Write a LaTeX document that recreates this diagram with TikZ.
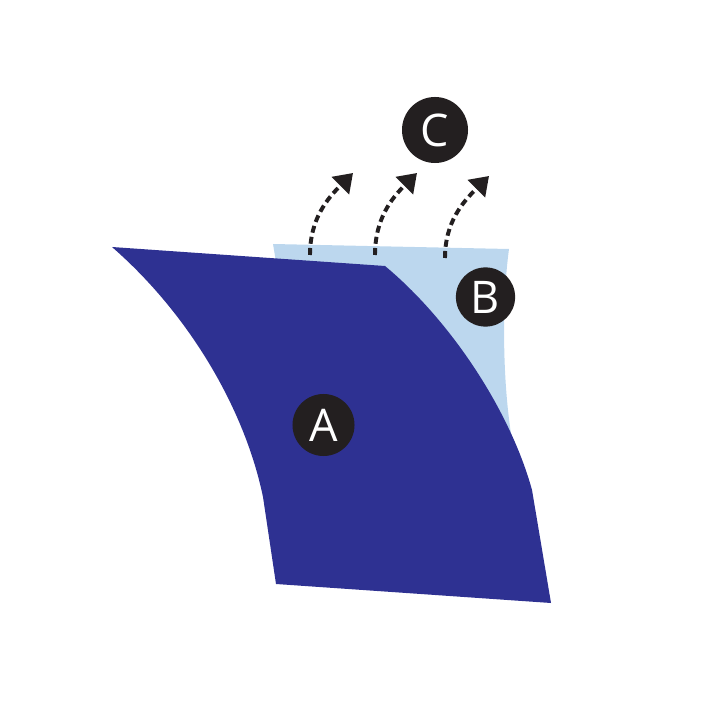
\documentclass[tikz,border=0pt]{standalone}
\usepackage{fontspec}
\setsansfont{Open Sans}
\usetikzlibrary{arrows.meta}
\definecolor{darkblue}{HTML}{2E3192}
\definecolor{lightblue}{HTML}{BCD7EE}
\definecolor{badge}{HTML}{231F20}
\tikzset{
  badgenode/.style={circle, fill=badge, text=white, inner sep=0pt, minimum size=1.55cm,
    font=\sffamily\fontsize{32}{32}\selectfont},
  escarrow/.style={line width=2.8pt, dash pattern=on 5pt off 3pt, color=badge,
    -{Triangle[length=0.45cm,width=0.6cm]}}
}
\begin{document}
\begin{tikzpicture}[x=0.025cm,y=-0.025cm]
\useasboundingbox (0,0) rectangle (720,720);
% layer B (light blue)
\fill[lightblue] (273,244) -- (509,249) .. controls (502,300) and (502,380) .. (512,440)
  -- (420,440) -- (276,262) -- cycle;
% layer A (dark blue)
\fill[darkblue] (112,247) -- (385,266) .. controls (450,320) and (510,410) .. (532,490)
  -- (551,603) -- (276,584) -- (263,497) .. controls (245,410) and (190,315) .. (112,247) -- cycle;
% badges
\node[badgenode] (A) at (323.5,425) {A};
\node[badgenode, minimum size=1.48cm] (B) at (485.5,297) {B};
\node[badgenode, minimum size=1.65cm] (C) at (435,130) {C};
% arrows
\coordinate (s1) at (310,255); \coordinate (t1) at (353,173);
\coordinate (s2) at (375,255); \coordinate (t2) at (417,173);
\coordinate (s3) at (445,258); \coordinate (t3) at (489,176);
\draw[escarrow] (s1) to[out=90,in=225] (t1);
\draw[escarrow] (s2) to[out=90,in=225] (t2);
\draw[escarrow] (s3) to[out=90,in=225] (t3);
\end{tikzpicture}
\end{document}
